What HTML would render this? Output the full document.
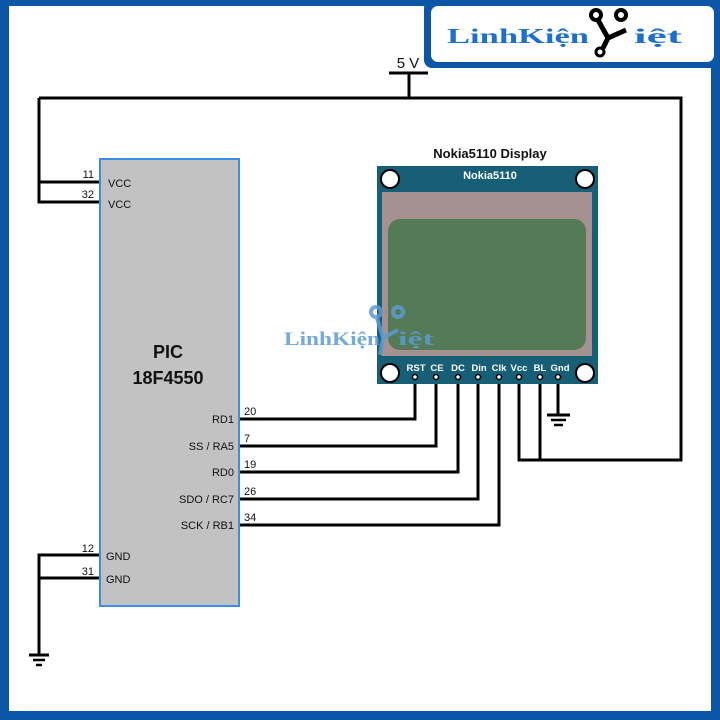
<!DOCTYPE html>
<html><head><meta charset="utf-8"><style>
html,body{margin:0;padding:0;background:#fff}
svg{display:block}
text{font-family:"Liberation Sans",Arial,sans-serif}
text.serif{font-family:"Liberation Serif",serif}
</style></head><body>
<svg width="720" height="720" viewBox="0 0 720 720" xmlns="http://www.w3.org/2000/svg">
<rect x="0" y="0" width="720" height="720" fill="#0b56a6"/>
<rect x="9" y="6" width="702" height="705" fill="#fff"/>
<!-- logo box -->
<rect x="424" y="0" width="296" height="68" rx="8" fill="#0b56a6"/>
<rect x="431" y="6" width="283" height="56" rx="7" fill="#fff"/>
<text class="serif" x="447" y="43" font-weight="bold" font-size="21" fill="#1b6fd0" textLength="142" lengthAdjust="spacingAndGlyphs">LinhKiện</text>
<text class="serif" x="634" y="43" font-weight="bold" font-size="21" fill="#1b6fd0" textLength="48" lengthAdjust="spacingAndGlyphs">iệt</text>
<g stroke="#000" stroke-width="5" fill="none">
<path d="M598 20 L608 38 L626 30 M608 38 L603 48"/>
<circle cx="596" cy="15" r="5" fill="#fff" stroke-width="4"/>
<circle cx="621" cy="15" r="5" fill="#fff" stroke-width="4"/>
<circle cx="600" cy="52" r="4" fill="#fff" stroke-width="3"/>
</g>
<!-- 5V -->
<text x="408" y="68" text-anchor="middle" font-size="15" fill="#111">5 V</text>
<!-- wires -->
<g stroke="#000" stroke-width="3" fill="none">
<path d="M389 73 H428 M409 73 V98"/>
<path d="M39 98 H681 V460 H519 V376 M540 460 V376"/>
<path d="M39 98 V202 H100 M39 182 H100"/>
<path d="M100 555 H39 V655 M39 578 H100"/>
<path d="M29 655 H49"/><path d="M33 660 H45" stroke-width="2.5"/><path d="M36 665 H42" stroke-width="2.5"/>
<path d="M239 419 H415 V376 M239 446 H436 V376 M239 472 H458 V376 M239 499 H478 V376 M239 525 H499 V376"/>
<path d="M558 376 V415 M547 415 H570"/><path d="M551 420 H566" stroke-width="2.5"/><path d="M554 425 H563" stroke-width="2.5"/>
</g>
<!-- chip -->
<rect x="100" y="159" width="139" height="447" fill="#c2c2c2" stroke="#3a8ee8" stroke-width="2"/>
<g font-size="11" fill="#111">
<text x="108" y="187">VCC</text><text x="108" y="208">VCC</text>
<text x="106" y="560">GND</text><text x="106" y="583">GND</text>
<text x="94" y="178" text-anchor="end">11</text><text x="94" y="198" text-anchor="end">32</text>
<text x="94" y="552" text-anchor="end">12</text><text x="94" y="575" text-anchor="end">31</text>
<g text-anchor="end"><text x="234" y="423">RD1</text><text x="234" y="450">SS / RA5</text><text x="234" y="476">RD0</text><text x="234" y="503">SDO / RC7</text><text x="234" y="529">SCK / RB1</text></g>
<text x="244" y="415">20</text><text x="244" y="442">7</text><text x="244" y="468">19</text><text x="244" y="495">26</text><text x="244" y="521">34</text>
</g>
<text x="168" y="358" text-anchor="middle" font-size="18" font-weight="bold" fill="#111">PIC</text>
<text x="168" y="384" text-anchor="middle" font-size="18" font-weight="bold" fill="#111">18F4550</text>
<!-- display -->
<text x="490" y="158" text-anchor="middle" font-size="13" font-weight="bold" fill="#111">Nokia5110 Display</text>
<rect x="377" y="166" width="221" height="218" fill="#175f77"/>
<rect x="382" y="192" width="210" height="164" fill="#a59190"/>
<rect x="388" y="219" width="198" height="131" rx="12" fill="#557b56"/>
<text x="490" y="179" text-anchor="middle" font-size="11" font-weight="bold" fill="#fff">Nokia5110</text>
<g fill="#fff" stroke="#000" stroke-width="2">
<circle cx="390" cy="179" r="9"/><circle cx="585" cy="179" r="9"/><circle cx="390" cy="373" r="9"/><circle cx="585" cy="373" r="9"/>
</g>
<g font-size="9.5" font-weight="bold" fill="#fff" text-anchor="middle">
<text x="416" y="371">RST</text><text x="437" y="371">CE</text><text x="458" y="371">DC</text><text x="479" y="371">Din</text><text x="499" y="371">Clk</text><text x="519" y="371">Vcc</text><text x="540" y="371">BL</text><text x="560" y="371">Gnd</text>
</g>
<g fill="#fff" stroke="#000" stroke-width="1.5">
<circle cx="415" cy="377" r="2.5"/><circle cx="436" cy="377" r="2.5"/><circle cx="458" cy="377" r="2.5"/><circle cx="478" cy="377" r="2.5"/><circle cx="499" cy="377" r="2.5"/><circle cx="519" cy="377" r="2.5"/><circle cx="540" cy="377" r="2.5"/><circle cx="558" cy="377" r="2.5"/>
</g>
<!-- watermark -->
<text class="serif" x="284" y="345" font-weight="bold" font-size="19" fill="#5b9bd5" opacity="0.85" textLength="96" lengthAdjust="spacingAndGlyphs">LinhKiện</text>
<text class="serif" x="398" y="345" font-weight="bold" font-size="19" fill="#5b9bd5" opacity="0.85" textLength="36" lengthAdjust="spacingAndGlyphs">iệt</text>
<g stroke="#5b9bd5" stroke-width="4" fill="none" opacity="0.85">
<path d="M377 318 L383 338 L398 330 M383 338 L380 355"/>
<circle cx="376" cy="312" r="5"/><circle cx="398" cy="312" r="5"/>
</g>
</svg>
</body></html>
